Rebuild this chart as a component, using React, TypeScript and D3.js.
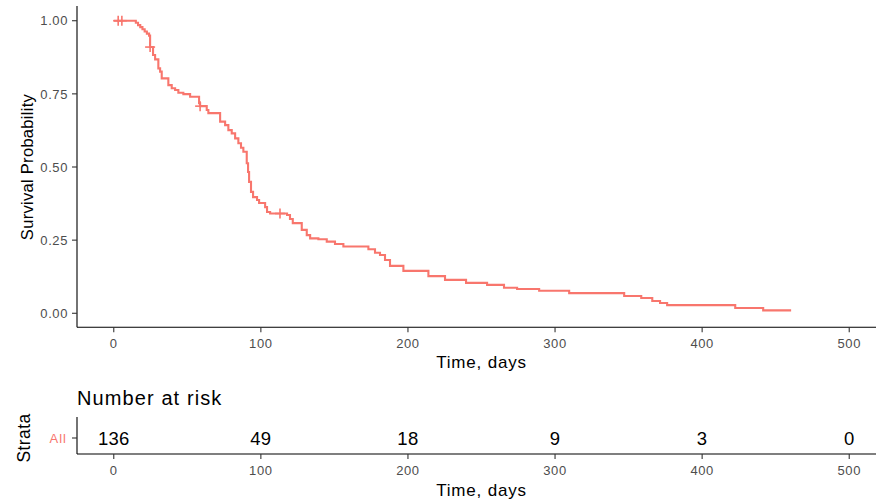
import React from "react";
import * as d3 from "d3";

// ---- data ----
const stepTimes = [
  0, 15, 16.5, 18, 19.5, 21, 22.5, 24, 24.7, 26.7, 28.1, 30.3, 31.5, 32.6, 37.1, 39.4, 41.7, 43.9, 47.3,
  51.9, 58.0, 58.7, 63.2, 64.3, 72.3, 75.7, 77.9, 80.2, 82.5, 84.7, 86.5, 88.1, 90.4, 91.3, 92.0,
  93.3, 94.7, 97.4, 98.8, 102.9, 104.2, 106.3, 117.8, 119.8, 121.7, 127.8, 131.2, 133.5, 139.1,
  144.8, 150.4, 156.1, 173.1, 177.6, 181.0, 184.4, 187.8, 196.9, 213.9, 225.2, 239.5, 253.8,
  265.3, 274.2, 289.2, 309.6, 347.0, 358.6, 366.1, 371.4, 376.2, 422.5, 441.5,
];
const stepSurv = [
  1.0, 0.993, 0.985, 0.978, 0.971, 0.963, 0.956, 0.949, 0.91, 0.883, 0.868, 0.837, 0.826, 0.803, 0.78,
  0.769, 0.763, 0.754, 0.749, 0.74, 0.718, 0.708, 0.695, 0.684, 0.655, 0.643, 0.626, 0.615, 0.598,
  0.581, 0.566, 0.552, 0.513, 0.483, 0.449, 0.415, 0.397, 0.387, 0.377, 0.363, 0.346, 0.341, 0.336,
  0.322, 0.308, 0.285, 0.267, 0.256, 0.253, 0.245, 0.237, 0.228, 0.219, 0.207, 0.199, 0.182, 0.162,
  0.145, 0.127, 0.114, 0.104, 0.097, 0.087, 0.083, 0.077, 0.069, 0.059, 0.052, 0.042, 0.035, 0.028,
  0.018, 0.01,
];
const endTime = 460.5;
const censorTimes = [3, 5.5, 24.7, 58.7, 113];

const xTicks = [0, 100, 200, 300, 400, 500];
const yTicks = [0, 0.25, 0.5, 0.75, 1.0];
const riskTimes = [0, 100, 200, 300, 400, 500];
const riskCounts = [136, 49, 18, 9, 3, 0];
const strataLabel = "All";

const COLOR = "#F8766D";
const FONT = "'Liberation Sans', Arial, sans-serif";

export default function App() {
  const W = 876;
  const H = 499;
  const x = d3.scaleLinear().domain([-25, 525]).range([77, 886]);
  const y = d3.scaleLinear().domain([-0.05, 1.05]).range([327.9, 6.1]);

  const pts: [number, number][] = stepTimes.map((t, i) => [t, stepSurv[i]]);
  pts.push([endTime, stepSurv[stepSurv.length - 1]]);
  const line = d3
    .line<[number, number]>()
    .x((d) => x(d[0]))
    .y((d) => y(d[1]))
    .curve(d3.curveStepAfter);

  const survAt = (t: number) => {
    let s = 1;
    for (let i = 0; i < stepTimes.length; i++) if (stepTimes[i] <= t) s = stepSurv[i];
    return s;
  };

  const panelBottom = 327.3;
  const riskTop = 417;
  const riskBottom = 454;
  const riskMid = 438;
  const tickFont = { fontSize: 13, letterSpacing: 0.6 } as const;

  return (
    <svg width={W} height={H} style={{ position: "absolute", left: 0, top: 0, background: "#fff" }} fontFamily={FONT}>
      <rect x={0} y={0} width={W} height={H} fill="#fff" />
      {/* main plot axes */}
      <line x1={77} x2={W} y1={panelBottom} y2={panelBottom} stroke="#000" strokeWidth={1.1} />
      <line x1={77} x2={77} y1={6} y2={panelBottom} stroke="#000" strokeWidth={1.1} />
      {yTicks.map((v) => (
        <g key={"yt" + v}>
          <line x1={72} x2={77} y1={y(v)} y2={y(v)} stroke="#333" strokeWidth={1.1} />
          <text x={68} y={y(v)} dy="0.36em" textAnchor="end" {...tickFont} fill="#4d4d4d">
            {v.toFixed(2)}
          </text>
        </g>
      ))}
      {xTicks.map((v) => (
        <g key={"xt" + v}>
          <line x1={x(v)} x2={x(v)} y1={panelBottom} y2={panelBottom + 5} stroke="#333" strokeWidth={1.1} />
          <text x={x(v)} y={343} dy="0.36em" textAnchor="middle" {...tickFont} fill="#4d4d4d">
            {v}
          </text>
        </g>
      ))}
      <text x={481.5} y={362} dy="0.36em" textAnchor="middle" fontSize={17} letterSpacing={0.8} fill="#000">
        Time, days
      </text>
      <text
        transform={`translate(27,167) rotate(-90)`}
        textAnchor="middle"
        dy="0.36em"
        fontSize={16.5}
        letterSpacing={0.3}
        fill="#000"
      >
        Survival Probability
      </text>

      {/* survival curve */}
      <path d={line(pts) || ""} fill="none" stroke={COLOR} strokeWidth={2.1} />
      {censorTimes.map((t, i) => {
        const cx = x(t);
        const cy = y(survAt(t));
        return (
          <g key={"c" + i} stroke={COLOR} strokeWidth={1.6}>
            <line x1={cx - 5} x2={cx + 5} y1={cy} y2={cy} />
            <line x1={cx} x2={cx} y1={cy - 5} y2={cy + 5} />
          </g>
        );
      })}

      {/* risk table */}
      <text x={77} y={398} dy="0.36em" fontSize={20} letterSpacing={1.1} fill="#000">
        Number at risk
      </text>
      <line x1={77} x2={W} y1={riskBottom} y2={riskBottom} stroke="#000" strokeWidth={1.1} />
      <line x1={77} x2={77} y1={riskTop} y2={riskBottom} stroke="#000" strokeWidth={1.1} />
      <line x1={72} x2={77} y1={riskMid} y2={riskMid} stroke="#333" strokeWidth={1.1} />
      <text x={67} y={riskMid} dy="0.36em" textAnchor="end" fontSize={13} letterSpacing={1} fill={COLOR}>
        {strataLabel}
      </text>
      <text transform={`translate(24,${riskMid}) rotate(-90)`} textAnchor="middle" dy="0.36em" fontSize={17.5} letterSpacing={0.4} fill="#000">
        Strata
      </text>
      {riskTimes.map((t, i) => (
        <text key={"r" + t} x={x(t)} y={riskMid} dy="0.36em" textAnchor="middle" fontSize={18.5} letterSpacing={0.3} fill="#000">
          {riskCounts[i]}
        </text>
      ))}
      {xTicks.map((v) => (
        <g key={"rxt" + v}>
          <line x1={x(v)} x2={x(v)} y1={riskBottom} y2={riskBottom + 5} stroke="#333" strokeWidth={1.1} />
          <text x={x(v)} y={470} dy="0.36em" textAnchor="middle" {...tickFont} fill="#4d4d4d">
            {v}
          </text>
        </g>
      ))}
      <text x={481.5} y={490} dy="0.36em" textAnchor="middle" fontSize={17} letterSpacing={0.8} fill="#000">
        Time, days
      </text>
    </svg>
  );
}
